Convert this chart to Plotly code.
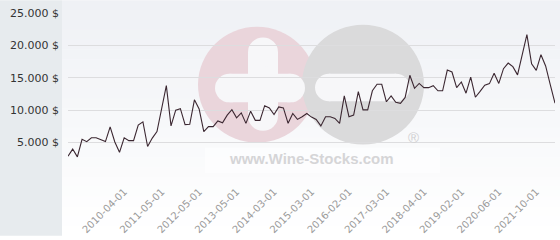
import plotly.graph_objects as go

dates = [
    "2009-01-01", "2009-02-01", "2009-03-01", "2009-05-01", "2009-06-01", "2009-07-01", "2009-09-01",
    "2009-10-01", "2009-11-01", "2009-12-01", "2010-01-01", "2010-02-01",
    "2010-04-01", "2010-06-01", "2010-07-01", "2010-09-01", "2010-10-01", "2010-12-01", "2011-01-01", "2011-03-01",
    "2011-05-01", "2011-06-01", "2011-08-01", "2011-09-01", "2011-11-01", "2011-12-01", "2012-02-01", "2012-03-01",
    "2012-05-01", "2012-06-01", "2012-08-01", "2012-09-01", "2012-11-01", "2012-12-01", "2013-02-01", "2013-03-01",
    "2013-05-01", "2013-06-01", "2013-07-01", "2013-09-01", "2013-10-01", "2013-11-01", "2013-12-01", "2014-02-01",
    "2014-03-01", "2014-04-01", "2014-06-01", "2014-07-01", "2014-09-01", "2014-10-01", "2014-12-01", "2015-01-01",
    "2015-03-01", "2015-04-01", "2015-06-01", "2015-07-01", "2015-09-01", "2015-10-01", "2015-11-01", "2015-12-01",
    "2016-02-01", "2016-04-01", "2016-05-01", "2016-07-01", "2016-08-01", "2016-10-01", "2016-11-01", "2017-01-01",
    "2017-03-01", "2017-05-01", "2017-06-01", "2017-08-01", "2017-09-01", "2017-11-01", "2017-12-01", "2018-02-01",
    "2018-04-01", "2018-05-01", "2018-06-01", "2018-08-01", "2018-09-01", "2018-10-01", "2018-11-01", "2018-12-01",
    "2019-02-01", "2019-04-01", "2019-06-01", "2019-08-01", "2019-10-01", "2019-12-01", "2020-02-01", "2020-04-01",
    "2020-06-01", "2020-08-01", "2020-10-01", "2020-12-01", "2021-02-01", "2021-04-01", "2021-06-01", "2021-08-01",
    "2021-10-01", "2021-12-01", "2022-02-01", "2022-04-01", "2022-06-01",
]

prices = [
    2900, 4000, 2800, 5500, 5150, 5750, 5750, 5500, 5150, 7420, 5100, 3500,
    5750, 5300, 5300, 7700, 8200, 4400, 5700, 6700,
    10300, 13800, 7580, 10000, 10240, 7780, 7830, 11600,
    10200, 6710, 7470, 7470, 8330, 8050, 9240, 10090,
    8830, 9590, 7970, 9850, 8430, 8430, 10700, 10350,
    9340, 10500, 10350, 7970, 9490, 8580, 8990, 9490,
    8940, 8580, 7580, 8990, 8990, 8730, 7970, 12210,
    8990, 9240, 12880, 10050, 10050, 13000, 14000, 14000,
    11300, 12210, 11210, 11060, 11970, 15390, 13380, 14130,
    13480, 13480, 13790, 13000, 13000, 16200, 15900, 13480,
    14350, 12620, 15100, 12000, 12900, 13850, 14100, 15700,
    14130, 16410, 17270, 16720, 15450, 18740, 21660, 17170,
    16150, 18570, 16830, 13890, 11080,
]

tick_labels = [
    "2010-04-01", "2011-05-01", "2012-05-01", "2013-05-01", "2014-03-01", "2015-03-01",
    "2016-02-01", "2017-03-01", "2018-04-01", "2019-02-01", "2020-06-01", "2021-10-01",
]

y_ticks = [0, 5000, 10000, 15000, 20000, 25000]
y_tick_text = ["", "5.000 $", "10.000 $", "15.000 $", "20.000 $", "25.000 $"]

W, H = 560, 240
L, R, T, B = 68, 5, 13, 62
PW, PH = W - L - R, H - T - B


def px(x):
    return (x - L) / PW


def py(y):
    return (H - B - y) / PH


shapes = []
# left grey panel
shapes.append(dict(type="rect", xref="paper", yref="paper", x0=px(0), x1=px(62), y0=py(H), y1=py(0),
                   fillcolor="#e7ebee", line=dict(width=0), layer="below"))
# vertical gradient background for chart area
n = 24
for i in range(n):
    t = i / (n - 1)
    r = round(239 + (255 - 239) * t)
    g = round(241 + (255 - 241) * t)
    b = round(245 + (255 - 245) * t)
    y0 = i * H / n
    y1 = (i + 1) * H / n
    shapes.append(dict(type="rect", xref="paper", yref="paper", x0=px(62), x1=px(W), y0=py(y1 + 0.5), y1=py(y0),
                       fillcolor=f"rgb({r},{g},{b})", line=dict(width=0), layer="below"))


def circ(cx, cy, rad, color):
    return dict(type="circle", xref="paper", yref="paper", x0=px(cx - rad), x1=px(cx + rad),
                y0=py(cy + rad), y1=py(cy - rad), fillcolor=color, line=dict(width=0), layer="below")


def rbar(x0, x1, y0, y1, color):
    out = []
    if (x1 - x0) >= (y1 - y0):
        rad = (y1 - y0) / 2
        out.append(dict(type="rect", xref="paper", yref="paper", x0=px(x0 + rad), x1=px(x1 - rad),
                        y0=py(y1), y1=py(y0), fillcolor=color, line=dict(width=0), layer="below"))
        out.append(circ(x0 + rad, (y0 + y1) / 2, rad, color))
        out.append(circ(x1 - rad, (y0 + y1) / 2, rad, color))
    else:
        rad = (x1 - x0) / 2
        out.append(dict(type="rect", xref="paper", yref="paper", x0=px(x0), x1=px(x1),
                        y0=py(y1 - rad), y1=py(y0 + rad), fillcolor=color, line=dict(width=0), layer="below"))
        out.append(circ((x0 + x1) / 2, y0 + rad, rad, color))
        out.append(circ((x0 + x1) / 2, y1 - rad, rad, color))
    return out


# watermark
shapes.append(dict(type="rect", xref="paper", yref="paper", x0=px(205), x1=px(440), y0=py(176), y1=py(150),
                   fillcolor="rgba(255,255,255,0.5)", line=dict(width=0), layer="below"))
shapes.append(circ(257, 86, 59, "#ead5db"))
shapes.append(circ(363, 86, 61, "#dadadb"))
wm_white = "#f7f7f9"
shapes += rbar(248, 278, 38, 133, wm_white)
shapes += rbar(215, 305, 75, 104, wm_white)
shapes += rbar(315, 410, 75, 103, wm_white)

fig = go.Figure()
fig.add_trace(go.Scatter(
    x=dates, y=prices, mode="lines",
    line=dict(color="#3b2731", width=1.1),
    hoverinfo="x+y", showlegend=False,
))

fig.update_layout(
    width=W, height=H,
    margin=dict(l=L, r=R, t=T, b=B, pad=0),
    paper_bgcolor="#ffffff",
    plot_bgcolor="rgba(0,0,0,0)",
    shapes=shapes,
    annotations=[
        dict(text="<b>www.Wine-Stocks.com</b>", xref="paper", yref="paper", x=px(311.5), y=py(161),
             showarrow=False, font=dict(family="Liberation Sans, Arial", size=15, color="#d5d5d7"),
             xanchor="center", yanchor="middle"),
        dict(text="®", xref="paper", yref="paper", x=px(413), y=py(140),
             showarrow=False, font=dict(family="Liberation Sans, Arial", size=15, color="#d0d0d2"),
             xanchor="center", yanchor="middle"),
    ],
    xaxis=dict(
        type="category",
        categoryorder="array", categoryarray=dates,
        range=[0, len(dates) - 1],
        tickmode="array", tickvals=tick_labels, ticktext=tick_labels,
        tickangle=-45,
        tickfont=dict(family="DejaVu Sans", size=10, color="#9a9a9a"),
        showgrid=False, zeroline=False, showline=False, ticks="",
        ticklabelstandoff=8,
    ),
    yaxis=dict(
        range=[0, 25000],
        tickmode="array", tickvals=y_ticks, ticktext=y_tick_text,
        tickfont=dict(family="DejaVu Sans", size=11, color="#333333"),
        showgrid=True, gridcolor="#dddddf", gridwidth=1,
        zeroline=False, showline=False, ticks="",
        ticklabelstandoff=8,
    ),
)

fig.write_html("out.html")
